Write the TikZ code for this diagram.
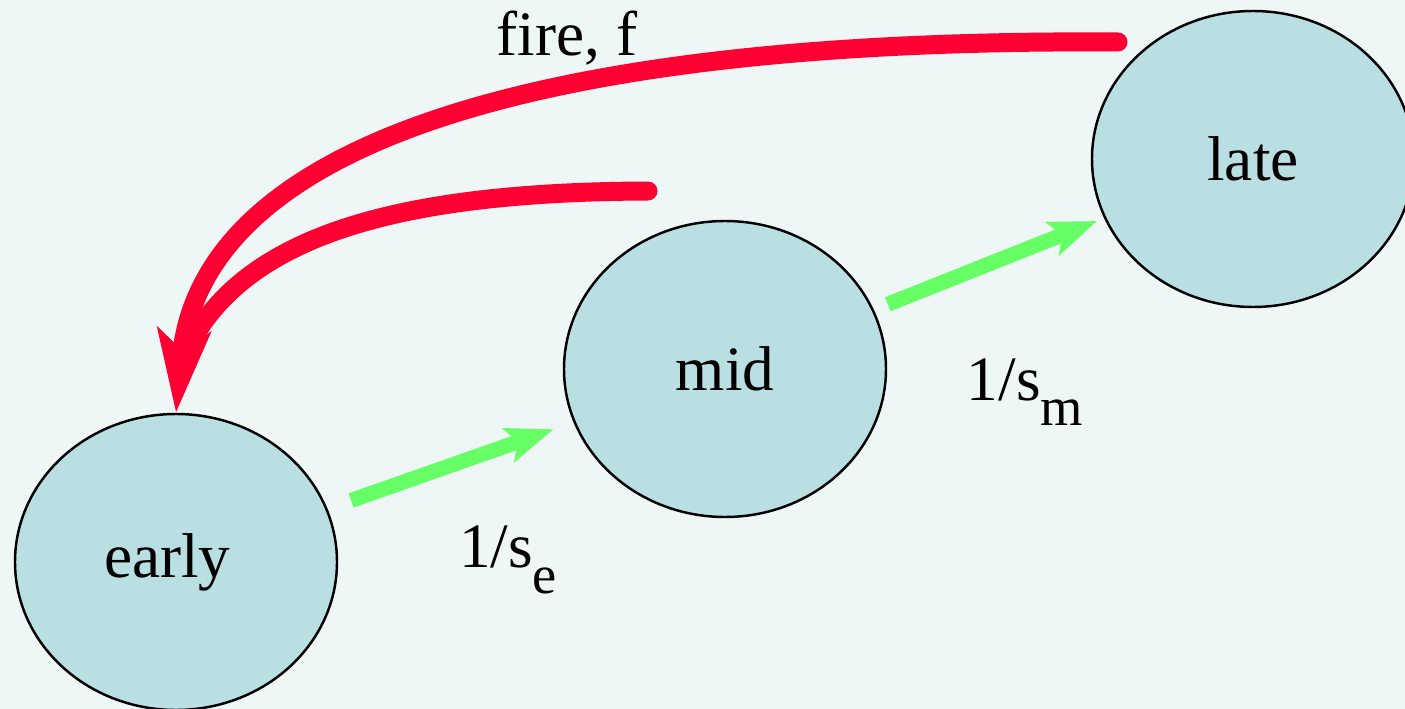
\documentclass[tikz,border=0pt]{standalone}
\usepackage{fontspec}
\setmainfont{Liberation Serif}
\usetikzlibrary{arrows.meta,shapes.geometric}
\definecolor{stbg}{HTML}{EEF6F6}
\definecolor{stfill}{HTML}{B9DFE2}
\definecolor{stred}{HTML}{FF0033}
\definecolor{stgreen}{HTML}{66FF66}

\begin{document}
\begin{tikzpicture}[
    state/.style={ellipse, draw=black, line width=1.4pt, fill=stfill,
      minimum width=6.44cm, minimum height=5.92cm, inner sep=0pt},
    rate/.style={stgreen, line width=0.3cm,
      -{Stealth[length=0.95cm, width=0.7cm, inset=0.2cm]}},
    firearc/.style={stred, line width=0.38cm, line cap=round},
    every node/.style={font=\fontsize{36}{42}\selectfont}]
  % page with background colour
  \useasboundingbox (0,0) rectangle (28.1,-14.18);
  \clip (0,0) rectangle (28.1,-14.18);
  \fill[stbg] (0,0) rectangle (28.1,-14.18);
  % the three states
  \node[state] (early) at (3.52,-11.24) {early\kern0.35cm};
  \node[state] (mid)   at (14.5,-7.38)  {mid};
  \node[state] (late)  at (25.06,-3.18) {late};
  % ageing (green)
  \draw[rate, shorten <=0.5cm, shorten >=0.42cm] (early) -- (mid);
  \draw[rate, shorten <=0.3cm, shorten >=0.15cm] (mid) -- (late);
  \node (se) at (10.16,-11.2) {1/s\raisebox{-0.4em}{\fontsize{31}{34}\selectfont e}};
  \node (sm) at (20.5,-7.84) {1/s\raisebox{-0.4em}{\fontsize{31}{34}\selectfont m}};
  % fire resets to early (red)
  \coordinate (fstart) at (22.36,-0.84);
  \coordinate (gstart) at (12.96,-3.82);
  \draw[firearc, -{Stealth[length=1.65cm, width=1.05cm, inset=0.4cm]}]
    (fstart) .. controls (9.6,-0.75) and (4.0,-3.3) .. coordinate[pos=0.9] (merge) (early.north);
  \draw[firearc] (gstart) .. controls (8.0,-3.84) and (5.0,-4.7) .. (merge);
  \node (fire) at (11.34,-0.76) {fire, f};
\end{tikzpicture}
\end{document}
